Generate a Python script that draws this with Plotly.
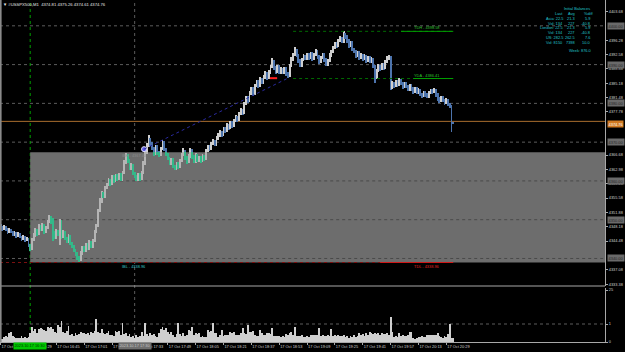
import pandas as pd
import plotly.graph_objects as go

# ---------------- data ----------------
symbol = "#USSPX500,M1"
quote = ["4374.81", "4375.26", "4374.61", "4374.76"]
first_bar = "2023-10-17 16:13"

opens = [
    4348.4, 4348.0, 4347.6, 4348.2, 4347.4, 4346.8, 4347.5, 4346.9, 4346.2, 4346.6,
    4345.9, 4346.3, 4345.6, 4345.0, 4345.5, 4344.8, 4344.9, 4343.4, 4342.6, 4344.8,
    4346.0, 4347.2, 4346.4, 4348.3, 4347.5, 4348.6, 4346.9, 4347.8, 4349.5, 4350.6,
    4349.2, 4346.5, 4345.4, 4347.0, 4346.2, 4349.6, 4345.6, 4346.8, 4345.2, 4344.4,
    4345.8, 4343.8, 4343.2, 4342.1, 4341.0, 4340.2, 4339.8, 4341.4, 4342.8, 4342.0,
    4343.6, 4342.6, 4344.2, 4343.1, 4344.6, 4346.9, 4348.5, 4352.3, 4354.6, 4356.8,
    4356.0, 4358.2, 4359.0, 4360.2, 4359.3, 4361.0, 4360.0, 4361.4, 4360.6, 4361.6,
    4360.4, 4362.0, 4364.8, 4366.6, 4365.2, 4363.2, 4364.0, 4362.0, 4361.2, 4360.4,
    4361.6, 4360.6, 4362.0, 4364.6, 4367.6, 4369.2, 4370.8, 4369.6, 4368.4, 4367.0,
    4368.8, 4367.4, 4366.6, 4368.2, 4369.8, 4368.2, 4366.8, 4365.8, 4364.6, 4365.4,
    4363.8, 4363.2, 4364.4, 4363.6, 4365.2, 4366.8, 4367.6, 4366.0, 4364.8, 4366.4,
    4367.8, 4366.2, 4365.0, 4366.6, 4365.4, 4366.0, 4365.2, 4366.4, 4365.6, 4367.8,
    4368.8, 4368.2, 4369.6, 4370.2, 4369.4, 4371.0, 4371.8, 4372.6, 4371.9, 4373.4,
    4372.8, 4374.4, 4373.6, 4375.0, 4374.2, 4375.6, 4376.4, 4375.8, 4377.2, 4378.2,
    4377.6, 4379.8, 4381.4, 4380.6, 4382.6, 4383.8, 4382.4, 4384.6, 4385.6, 4384.4,
    4386.2, 4385.4, 4386.8, 4387.8, 4386.6, 4388.0, 4389.4, 4390.8, 4389.2, 4388.2,
    4389.4, 4388.0, 4388.8, 4388.0, 4389.0, 4387.6, 4387.2, 4389.6, 4391.4, 4392.6,
    4393.6, 4392.4, 4391.0, 4389.8, 4391.2, 4392.2, 4391.6, 4392.6, 4391.8, 4392.8,
    4391.4, 4392.4, 4393.4, 4392.0, 4390.6, 4391.8, 4392.6, 4391.2, 4390.0, 4391.0,
    4392.4, 4393.2, 4394.4, 4395.4, 4394.8, 4396.2, 4396.8, 4396.0, 4397.8, 4397.2,
    4396.2, 4394.8, 4395.6, 4394.0, 4393.4, 4392.2, 4393.0, 4391.8, 4392.4, 4391.4,
    4392.2, 4391.0, 4391.8, 4390.8, 4391.4, 4389.6, 4386.6, 4388.4, 4389.6, 4388.8,
    4390.0, 4389.2, 4390.6, 4391.6, 4392.0, 4384.0, 4385.2, 4384.4, 4385.6, 4384.8,
    4386.0, 4385.2, 4384.2, 4385.0, 4384.4, 4383.6, 4384.6, 4383.8, 4383.0, 4383.8,
    4382.8, 4383.4, 4382.4, 4382.0, 4382.8, 4382.2, 4381.8, 4382.6, 4383.2, 4383.0,
    4383.4, 4382.2, 4381.2, 4380.6, 4381.4, 4380.8, 4380.2, 4380.8, 4379.8, 4379.2,
    4374.81,
]
highs = [
    4348.9, 4348.5, 4348.7, 4348.4, 4347.8, 4347.9, 4347.7, 4347.2, 4347.0, 4346.8,
    4346.8, 4346.5, 4345.9, 4346.0, 4345.8, 4345.6, 4345.2, 4343.8, 4345.2, 4346.5,
    4347.8, 4347.6, 4348.9, 4348.7, 4349.2, 4348.9, 4348.3, 4349.9, 4351.2, 4350.9,
    4350.4, 4347.0, 4347.5, 4347.4, 4350.3, 4349.9, 4347.3, 4347.2, 4345.6, 4346.3,
    4346.1, 4344.3, 4343.6, 4342.5, 4341.6, 4340.6, 4341.9, 4343.3, 4343.2, 4344.1,
    4343.9, 4344.7, 4344.5, 4345.1, 4347.4, 4349.0, 4352.8, 4355.6, 4357.3, 4357.2,
    4358.7, 4359.5, 4360.7, 4360.6, 4361.5, 4361.4, 4361.9, 4361.8, 4362.1, 4362.0,
    4362.5, 4365.3, 4367.3, 4367.0, 4365.6, 4364.5, 4364.4, 4362.4, 4361.6, 4362.1,
    4362.0, 4362.5, 4365.1, 4368.1, 4369.7, 4371.8, 4371.2, 4370.0, 4368.8, 4369.3,
    4369.2, 4367.8, 4368.7, 4370.5, 4370.2, 4368.6, 4367.2, 4366.2, 4365.9, 4365.8,
    4364.2, 4364.9, 4364.8, 4365.7, 4367.3, 4368.4, 4368.0, 4366.4, 4366.9, 4368.6,
    4368.2, 4366.6, 4367.1, 4367.0, 4366.5, 4366.4, 4366.9, 4366.8, 4368.3, 4369.3,
    4369.2, 4370.1, 4370.7, 4370.6, 4371.5, 4372.3, 4373.1, 4373.0, 4373.9, 4373.8,
    4374.9, 4374.8, 4375.5, 4375.4, 4376.1, 4376.9, 4376.8, 4377.7, 4378.7, 4378.6,
    4380.3, 4381.9, 4381.8, 4383.1, 4384.3, 4384.2, 4385.1, 4386.1, 4386.0, 4386.7,
    4386.6, 4387.3, 4388.3, 4388.2, 4388.5, 4389.9, 4391.7, 4391.2, 4389.6, 4389.9,
    4389.8, 4389.3, 4389.2, 4389.5, 4389.4, 4388.0, 4390.1, 4391.9, 4393.1, 4394.5,
    4394.0, 4392.8, 4391.4, 4391.7, 4392.7, 4392.6, 4393.1, 4393.0, 4393.3, 4393.2,
    4392.9, 4393.9, 4393.8, 4392.4, 4392.3, 4393.1, 4393.0, 4391.6, 4391.5, 4392.9,
    4393.7, 4394.9, 4395.9, 4395.8, 4396.7, 4397.3, 4397.2, 4398.58, 4398.2, 4397.6,
    4396.6, 4396.1, 4396.0, 4394.4, 4393.8, 4393.5, 4393.4, 4392.9, 4392.8, 4392.7,
    4392.6, 4392.3, 4392.2, 4391.9, 4391.8, 4390.0, 4388.9, 4390.1, 4390.0, 4390.5,
    4390.4, 4391.1, 4392.1, 4392.6, 4392.3, 4385.7, 4385.6, 4386.1, 4386.0, 4386.5,
    4386.4, 4385.6, 4385.5, 4385.4, 4384.8, 4385.1, 4385.0, 4384.2, 4384.3, 4384.2,
    4383.9, 4383.8, 4382.8, 4383.3, 4383.2, 4382.6, 4383.1, 4383.7, 4383.6, 4383.9,
    4383.8, 4382.6, 4381.6, 4381.9, 4381.8, 4381.2, 4381.3, 4381.2, 4380.2, 4379.6,
    4375.26,
]
lows = [
    4347.6, 4347.2, 4347.4, 4347.0, 4346.4, 4346.5, 4346.5, 4345.8, 4345.9, 4345.4,
    4345.6, 4345.2, 4344.6, 4344.7, 4344.3, 4344.4, 4343.0, 4341.8, 4342.3, 4344.5,
    4345.6, 4345.9, 4346.1, 4347.0, 4347.1, 4346.4, 4346.5, 4347.5, 4349.1, 4348.8,
    4344.6, 4344.9, 4345.1, 4345.7, 4343.6, 4345.1, 4345.2, 4344.7, 4343.9, 4344.0,
    4343.4, 4342.7, 4341.7, 4340.6, 4339.7, 4338.96, 4339.4, 4341.0, 4341.6, 4341.7,
    4342.1, 4342.3, 4342.7, 4342.8, 4344.3, 4346.5, 4348.2, 4351.9, 4354.2, 4355.5,
    4355.7, 4357.8, 4358.6, 4358.8, 4359.0, 4359.5, 4359.7, 4360.1, 4360.3, 4359.9,
    4360.1, 4361.7, 4364.4, 4364.7, 4362.8, 4362.9, 4361.5, 4360.7, 4359.9, 4360.0,
    4360.1, 4360.2, 4361.7, 4364.2, 4367.2, 4368.8, 4369.1, 4367.9, 4366.5, 4366.7,
    4366.9, 4366.1, 4366.3, 4367.9, 4367.7, 4366.3, 4365.3, 4364.1, 4364.2, 4363.3,
    4362.8, 4362.9, 4363.1, 4363.3, 4364.9, 4366.4, 4365.5, 4364.3, 4364.5, 4366.0,
    4365.7, 4364.6, 4364.7, 4364.9, 4365.0, 4364.7, 4364.9, 4365.1, 4365.3, 4367.4,
    4367.7, 4367.9, 4369.2, 4368.9, 4369.1, 4370.6, 4371.4, 4371.4, 4371.6, 4372.3,
    4372.5, 4373.1, 4373.3, 4373.7, 4373.9, 4375.2, 4375.3, 4375.5, 4376.9, 4377.1,
    4377.3, 4379.5, 4380.1, 4380.3, 4382.2, 4381.9, 4382.1, 4384.2, 4383.9, 4384.1,
    4384.9, 4385.1, 4386.4, 4386.1, 4386.3, 4387.7, 4389.0, 4388.7, 4387.7, 4387.9,
    4387.5, 4387.7, 4387.5, 4387.7, 4387.1, 4386.5, 4386.9, 4389.3, 4391.0, 4392.2,
    4391.9, 4390.5, 4389.4, 4389.5, 4390.9, 4391.1, 4391.3, 4391.3, 4391.5, 4390.9,
    4391.1, 4392.1, 4391.5, 4390.1, 4390.3, 4391.5, 4390.7, 4389.6, 4389.7, 4390.7,
    4392.0, 4392.9, 4394.0, 4394.3, 4394.5, 4395.8, 4395.5, 4395.7, 4396.7, 4395.7,
    4394.3, 4394.5, 4393.5, 4392.9, 4391.7, 4391.9, 4391.3, 4391.5, 4390.9, 4391.1,
    4390.5, 4390.7, 4390.3, 4390.5, 4389.1, 4385.2, 4386.3, 4388.1, 4388.3, 4388.5,
    4388.7, 4388.9, 4390.3, 4391.2, 4383.5, 4383.6, 4383.9, 4384.1, 4384.3, 4384.5,
    4384.7, 4383.7, 4383.9, 4383.9, 4383.1, 4383.3, 4383.3, 4382.5, 4382.7, 4382.3,
    4382.5, 4381.9, 4381.5, 4381.7, 4381.7, 4381.3, 4381.5, 4382.3, 4382.5, 4382.7,
    4381.7, 4380.7, 4380.1, 4380.3, 4380.3, 4379.7, 4379.9, 4379.3, 4378.7, 4372.6,
    4374.61,
]
closes = [
    4348.0, 4347.6, 4348.2, 4347.4, 4346.8, 4347.5, 4346.9, 4346.2, 4346.6, 4345.9,
    4346.3, 4345.6, 4345.0, 4345.5, 4344.8, 4344.9, 4343.4, 4342.6, 4344.8, 4346.0,
    4347.2, 4346.4, 4348.3, 4347.5, 4348.6, 4346.9, 4347.8, 4349.5, 4350.6, 4349.2,
    4346.5, 4345.4, 4347.0, 4346.2, 4349.6, 4345.6, 4346.8, 4345.2, 4344.4, 4345.8,
    4343.8, 4343.2, 4342.1, 4341.0, 4340.2, 4339.8, 4341.4, 4342.8, 4342.0, 4343.6,
    4342.6, 4344.2, 4343.1, 4344.6, 4346.9, 4348.5, 4352.3, 4354.6, 4356.8, 4356.0,
    4358.2, 4359.0, 4360.2, 4359.3, 4361.0, 4360.0, 4361.4, 4360.6, 4361.6, 4360.4,
    4362.0, 4364.8, 4366.6, 4365.2, 4363.2, 4364.0, 4362.0, 4361.2, 4360.4, 4361.6,
    4360.6, 4362.0, 4364.6, 4367.6, 4369.2, 4370.8, 4369.6, 4368.4, 4367.0, 4368.8,
    4367.4, 4366.6, 4368.2, 4369.8, 4368.2, 4366.8, 4365.8, 4364.6, 4365.4, 4363.8,
    4363.2, 4364.4, 4363.6, 4365.2, 4366.8, 4367.6, 4366.0, 4364.8, 4366.4, 4367.8,
    4366.2, 4365.0, 4366.6, 4365.4, 4366.0, 4365.2, 4366.4, 4365.6, 4367.8, 4368.8,
    4368.2, 4369.6, 4370.2, 4369.4, 4371.0, 4371.8, 4372.6, 4371.9, 4373.4, 4372.8,
    4374.4, 4373.6, 4375.0, 4374.2, 4375.6, 4376.4, 4375.8, 4377.2, 4378.2, 4377.6,
    4379.8, 4381.4, 4380.6, 4382.6, 4383.8, 4382.4, 4384.6, 4385.6, 4384.4, 4386.2,
    4385.4, 4386.8, 4387.8, 4386.6, 4388.0, 4389.4, 4390.8, 4389.2, 4388.2, 4389.4,
    4388.0, 4388.8, 4388.0, 4389.0, 4387.6, 4387.2, 4389.6, 4391.4, 4392.6, 4393.6,
    4392.4, 4391.0, 4389.8, 4391.2, 4392.2, 4391.6, 4392.6, 4391.8, 4392.8, 4391.4,
    4392.4, 4393.4, 4392.0, 4390.6, 4391.8, 4392.6, 4391.2, 4390.0, 4391.0, 4392.4,
    4393.2, 4394.4, 4395.4, 4394.8, 4396.2, 4396.8, 4396.0, 4397.8, 4397.2, 4396.2,
    4394.8, 4395.6, 4394.0, 4393.4, 4392.2, 4393.0, 4391.8, 4392.4, 4391.4, 4392.2,
    4391.0, 4391.8, 4390.8, 4391.4, 4389.6, 4386.6, 4388.4, 4389.6, 4388.8, 4390.0,
    4389.2, 4390.6, 4391.6, 4392.0, 4384.0, 4385.2, 4384.4, 4385.6, 4384.8, 4386.0,
    4385.2, 4384.2, 4385.0, 4384.4, 4383.6, 4384.6, 4383.8, 4383.0, 4383.8, 4382.8,
    4383.4, 4382.4, 4382.0, 4382.8, 4382.2, 4381.8, 4382.6, 4383.2, 4383.0, 4383.4,
    4382.2, 4381.2, 4380.6, 4381.4, 4380.8, 4380.2, 4380.8, 4379.8, 4379.2, 4374.0,
    4374.76,
]
volumes = [
    3, 3.5, 5, 6, 5, 9, 10, 6, 5, 4,
    4.5, 4, 6.5, 4, 5, 4.5, 5, 9, 15.5, 11,
    13.5, 9, 13, 14, 13, 12, 11, 15.5, 14, 15.5,
    13, 10.5, 9, 17, 15, 21, 10, 9, 11, 16,
    7, 8.5, 6, 9, 7, 8, 10, 9.5, 9, 8,
    9, 7.5, 10.5, 9, 11, 23, 10.5, 9, 13, 9,
    8, 9, 11.5, 7, 7.5, 6, 11, 10, 11.5, 7,
    19, 8, 9, 6.5, 8, 5.5, 6, 4.5, 7, 5,
    6.5, 10.5, 6, 19, 8, 6.5, 9, 7, 8, 6,
    5, 9, 13, 15.5, 12, 14, 10, 8, 10.5, 7,
    5.5, 8, 19, 8, 6.5, 9, 6, 7.5, 12, 11,
    15.5, 7, 9, 8.5, 9, 5.5, 6, 5, 5.5, 12,
    10, 11.5, 19, 9, 9, 5, 7, 12, 6, 7.5,
    7, 7, 10, 9.5, 10, 7, 7.5, 7, 9, 14,
    9, 8.5, 17, 10.5, 10, 11, 7, 6, 6.5, 12,
    9, 7, 7.5, 9, 9, 8.5, 14, 6, 6.5, 6,
    6.5, 5.5, 6, 5.5, 8, 7, 9, 10, 7, 15.5,
    6, 6.5, 6, 7, 5.5, 5.5, 6, 5, 7, 7.5,
    7, 7, 7.5, 14, 6.5, 7, 6, 6.5, 7, 6,
    13.5, 6.5, 7, 6, 7, 6.5, 6, 7, 5.5, 6,
    4.5, 6, 5, 7, 5.5, 6, 9, 7, 8, 6.5,
    9, 7.5, 10.5, 9, 8, 9.5, 8.5, 9, 7, 9,
    8, 8.5, 9, 7, 25.5, 10.5, 5.5, 6, 5.5, 9,
    6.5, 7, 6, 6.5, 7, 10.5, 10, 4, 3.5, 4.5,
    5, 5.5, 6, 5.5, 5, 7, 7.5, 7, 7.5, 7,
    7, 9, 6, 5, 4.5, 6.5, 5, 8, 18, 4,
    4,
]

ib_start = "2023-10-17 16:30"
grid_time = "2023-10-17 17:30"
ib_high = 4367.40
ib_low = 4338.96
td_high = 4398.58
yda = 4386.41
td_low = 4338.96
bid = 4374.76
ask = 4375.36
grid_levels = [4400, 4390, 4380, 4370, 4360, 4350, 4340]
# axis labels that are not covered by the level boxes
price_ticks = [4403.68, 4396.28, 4392.58, 4388.88, 4385.18, 4381.48,
               4377.78, 4366.68, 4362.98, 4359.28, 4355.58,
               4351.88, 4348.18, 4344.48, 4337.08, 4333.38]
time_labels = ["16:13", "16:29", "16:45", "17:01", "17:17", "17:33", "17:49",
               "18:05", "18:21", "18:37", "18:53", "19:09", "19:25", "19:41",
               "19:57", "20:13", "20:29"]
vol_ticks = [0, 18, 52]
vol_labels = ["0", "1", "25"]
vol_level = 18

# drawing objects (time, price)
trend_start = ("2023-10-17 17:35:24", 4368.2)
trend_end = ("2023-10-17 18:58:00", 4386.5)
arrow = ("2023-10-17 18:47:40", "2023-10-17 18:51:50", 4386.5)
level_line_start = "2023-10-17 19:01"
level_solid_start = "2023-10-17 20:03"
level_label_start = "2023-10-17 20:10"
level_end = "2023-10-17 20:33"
tdl_solid_start = "2023-10-17 19:51"
ibl_label_at = "2023-10-17 17:22"

balance_title = "Initial Balances"
balance_head = ["Last", "Avg", "%diff"]
balance_rows = [
    ("Asia:", "22.5", "21.3", "5.9"),
    ("Vol:", "134", "227", "-40.8"),
    ("London:", "22.5", "21.3", "5.9"),
    ("Vol:", "134", "227", "-40.8"),
    ("US:", "282.5", "262.5", "7.6"),
    ("Vol:", "8150", "7398", "10.0"),
]
week_range = "876.0"

# ---------------- layout constants ----------------
W, H = 625, 352
PW, PH = 605, 342        # plot area in px
PX_PER_MIN = 1.741
FONT = "Liberation Sans"
FS = 3.9
UP_OUT, DN_OUT = "#cfcfcf", "#4d74ad"
UP_IN, DN_IN = "#b4b4b4", "#34b889"


def px(x):
    return x / PW


def py(y):
    return (PH - y) / PH


n = min(len(opens), len(highs), len(lows), len(closes), len(volumes))
times = pd.date_range(first_bar, periods=n, freq="min")
t0 = pd.Timestamp(first_bar)
x_left = t0 - pd.Timedelta(minutes=0.345)
x_right = x_left + pd.Timedelta(minutes=PW / PX_PER_MIN)
bar_w = 30000  # ms

main_dom0 = (PH - 286) / PH
vol_dom1 = (PH - 288) / PH
y_top = 4406.66
y_bot = y_top - 286 * 0.2579

up = [closes[i] >= opens[i] for i in range(n)]
cols_out = [UP_OUT if u else DN_OUT for u in up]

fig = go.Figure()
fig.add_trace(go.Bar(
    x=times, base=lows[:n], y=[highs[i] - lows[i] for i in range(n)],
    width=bar_w, marker=dict(color=cols_out, line=dict(width=0)),
    hoverinfo="skip", yaxis="y", xaxis="x"))

# part of bars inside the initial-balance box shows in box colours
ibs = pd.Timestamp(ib_start)
bx, bb, bl, bc = [], [], [], []
for i in range(n):
    if times[i] < ibs:
        continue
    top = min(highs[i], ib_high)
    bot = max(lows[i], ib_low)
    if top > bot:
        bx.append(times[i]); bb.append(bot); bl.append(top - bot)
        bc.append(UP_IN if up[i] else DN_IN)
fig.add_trace(go.Bar(x=bx, base=bb, y=bl, width=bar_w,
                     marker=dict(color=bc, line=dict(width=0)),
                     hoverinfo="skip", yaxis="y", xaxis="x"))

fig.add_trace(go.Bar(x=times, y=volumes[:n], width=bar_w,
                     marker=dict(color="#cfcfcf", line=dict(width=0)),
                     hoverinfo="skip", yaxis="y2", xaxis="x"))

# circle marker at trend start
fig.add_trace(go.Scatter(x=[trend_start[0]], y=[trend_start[1]], mode="markers",
                         marker=dict(size=5, color="#5a5ae0",
                                     line=dict(color="#e0e0ff", width=1)),
                         hoverinfo="skip", yaxis="y"))

shapes = []
for p in grid_levels:
    shapes.append(dict(type="line", xref="paper", x0=0, x1=1, yref="y", y0=p, y1=p,
                       line=dict(color="#5c5c5c", width=1, dash="dot"), layer="below"))
shapes.append(dict(type="rect", xref="x", x0=ib_start, x1=x_right, yref="y",
                   y0=ib_low, y1=ib_high, fillcolor="#6d6d6d", line=dict(width=0),
                   layer="below"))
for p in grid_levels:
    if ib_low < p < ib_high:
        shapes.append(dict(type="line", xref="x", x0=ib_start, x1=x_right, yref="y",
                           y0=p, y1=p, line=dict(color="#4a4a4a", width=1, dash="dot"),
                           layer="below"))
shapes.append(dict(type="line", xref="x", x0=ib_start, x1=ib_start, yref="paper",
                   y0=0, y1=1, line=dict(color="#00a000", width=1, dash="dot"),
                   layer="below"))
shapes.append(dict(type="line", xref="x", x0=grid_time, x1=grid_time, yref="paper",
                   y0=0, y1=1, line=dict(color="#5c5c5c", width=1, dash="dot"),
                   layer="below"))
shapes.append(dict(type="line", xref="paper", x0=0, x1=1, yref="y2", y0=vol_level,
                   y1=vol_level, line=dict(color="#5c5c5c", width=1, dash="dot"),
                   layer="below"))
shapes.append(dict(type="line", xref="paper", x0=0, x1=1, yref="y", y0=ask, y1=ask,
                   line=dict(color="#a86d2e", width=1), layer="below"))
# TD high / yesterday's level / today's low
for lvl in (td_high, yda):
    shapes.append(dict(type="line", xref="x", x0=level_line_start, x1=level_end,
                       yref="y", y0=lvl, y1=lvl,
                       line=dict(color="#006a00", width=1, dash="dot")))
shapes.append(dict(type="line", xref="x", x0=level_solid_start, x1=level_end,
                   yref="y", y0=td_high, y1=td_high,
                   line=dict(color="#00a000", width=1)))
shapes.append(dict(type="line", xref="x", x0=level_label_start, x1=level_end,
                   yref="y", y0=yda, y1=yda, line=dict(color="#00a000", width=1)))
shapes.append(dict(type="line", xref="paper", x0=0, x1=px(380), yref="y",
                   y0=td_low, y1=td_low, line=dict(color="#7a1010", width=1, dash="dot")))
shapes.append(dict(type="line", xref="x", x0=tdl_solid_start, x1=level_end,
                   yref="y", y0=td_low, y1=td_low, line=dict(color="#d01818", width=1)))
shapes.append(dict(type="line", xref="x", x0=trend_start[0], x1=trend_end[0],
                   yref="y", y0=trend_start[1], y1=trend_end[1],
                   line=dict(color="#2a2aa0", width=1, dash="dot")))
shapes.append(dict(type="line", xref="x", x0=arrow[0], x1=arrow[1], yref="y",
                   y0=arrow[2], y1=arrow[2], line=dict(color="#ff2020", width=2)))
# borders
shapes.append(dict(type="line", xref="paper", x0=0, x1=1, yref="paper",
                   y0=main_dom0, y1=main_dom0, line=dict(color="#a8a8a8", width=1)))
shapes.append(dict(type="line", xref="paper", x0=0.001, x1=0.001, yref="paper",
                   y0=0, y1=1, line=dict(color="#8a8a8a", width=2)))

ann = []


def txt(x, y, s, color="#d0d0d0", xa="left", ya="middle", xref="paper", yref="paper",
        size=FS, bg=None, pad=0, xshift=0):
    d = dict(x=x, y=y, xref=xref, yref=yref, text=s, showarrow=False,
             xanchor=xa, yanchor=ya, font=dict(family=FONT, size=size, color=color),
             borderpad=pad, xshift=xshift)
    if bg:
        d["bgcolor"] = bg
    ann.append(d)


txt(px(2), py(5), "▼ " + symbol + "  " + " ".join(quote), color="#e8e8e8", size=4.2)

# info panel
cyan = "#22c4cc"
txt(px(577), py(8.5), balance_title, color=cyan, xa="center")
txt(px(564), py(13.5), balance_head[0], color=cyan, xa="right")
txt(px(576), py(13.5), balance_head[1], color=cyan, xa="right")
txt(px(594), py(13.5), balance_head[2], color=cyan, xa="right")
for k, (lab, last, avg, pct) in enumerate(balance_rows):
    yy = py(18.5 + 4.7 * k)
    txt(px(564), yy, lab + " " + last, color=cyan, xa="right")
    txt(px(576), yy, avg, color=cyan, xa="right")
    txt(px(591), yy, pct, color=cyan, xa="right")
txt(px(593), py(50), "Week: " + week_range, color=cyan, xa="right")

# level labels
txt(level_label_start, td_high, "TDH - %.2f" % td_high, color="#2fc02f", xref="x",
    yref="y", ya="bottom")
txt(level_label_start, yda, "YDA - %.2f" % yda, color="#2fc02f", xref="x", yref="y",
    ya="bottom")
txt(level_label_start, td_low, "TDL - %.2f" % td_low, color="#e02020", xref="x",
    yref="y", ya="top")
txt(ibl_label_at, ib_low, "IBL - %.2f" % ib_low, color="#36c0c8", xref="x", yref="y",
    ya="top")
txt(ibl_label_at, ib_high, "IBH - %.2f" % ib_high, color="#8c8c8c", xref="x",
    yref="y", ya="top")

# axis boxes
for p in grid_levels:
    txt(1, p, "%.2f" % p, color="#262626", yref="y", bg="#6a6a6a", pad=0.6, xshift=2)
txt(1, bid, "%.2f" % bid, color="#ffffff", yref="y", bg="#d07a22", pad=0.6, xshift=2)

# time markers on x axis
txt(ib_start, py(345.5), ib_start.replace("-", "."), color="#003000", xa="center",
    xref="x", bg="#00c800", pad=0.4)
txt(grid_time, py(345.5), grid_time.replace("-", "."), color="#c8c8c8", xa="center",
    xref="x", bg="#6e6e6e", pad=0.4)

tick_times = [pd.Timestamp("2023-10-17 " + s) for s in time_labels]

fig.update_layout(
    template="none",
    width=W, height=H, margin=dict(l=0, r=W - PW, t=0, b=H - PH, autoexpand=False),
    paper_bgcolor="#000000", plot_bgcolor="#000000",
    showlegend=False, barmode="overlay", bargap=0, hovermode=False,
    shapes=shapes, annotations=ann,
    xaxis=dict(type="date", range=[x_left, x_right], anchor="y2", showgrid=False,
               zeroline=False, showline=True, linecolor="#a8a8a8", linewidth=1,
               tickvals=tick_times, ticktext=["17 Oct " + s for s in time_labels],
               ticks="outside", ticklen=2, tickcolor="#a8a8a8", tickangle=0,
               automargin=False, ticklabelposition="outside right",
               tickfont=dict(family=FONT, size=FS, color="#d0d0d0")),
    yaxis=dict(domain=[main_dom0, 1], range=[y_bot, y_top], side="right", anchor="x",
               showgrid=False, zeroline=False, showline=True, linecolor="#a8a8a8",
               tickvals=price_ticks, ticktext=["%.2f" % p for p in price_ticks],
               ticks="outside", ticklen=2, tickcolor="#a8a8a8", automargin=False,
               tickfont=dict(family=FONT, size=FS, color="#d0d0d0")),
    yaxis2=dict(domain=[0, vol_dom1], range=[0, 54], side="right", anchor="x",
                showgrid=False, zeroline=False, showline=True, linecolor="#a8a8a8",
                tickvals=vol_ticks, ticktext=vol_labels, ticks="outside", ticklen=2,
                tickcolor="#a8a8a8", automargin=False,
                tickfont=dict(family=FONT, size=FS, color="#d0d0d0")),
)

fig.write_html("out.html")
